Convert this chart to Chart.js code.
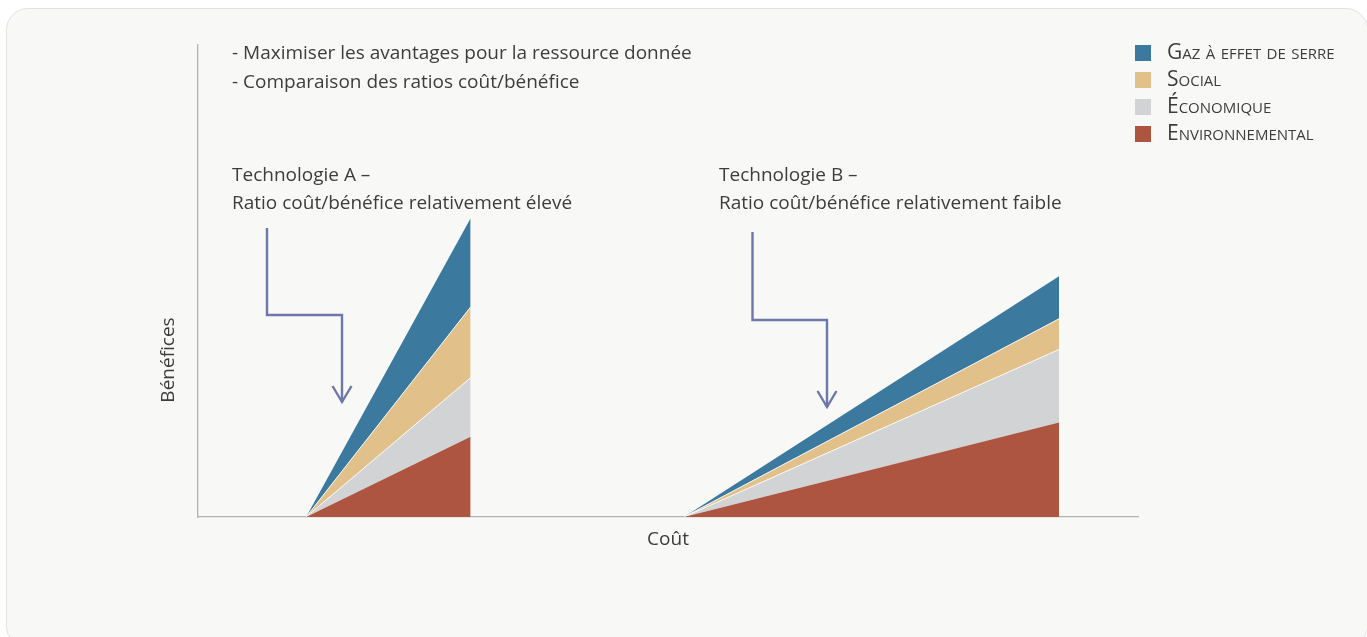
<!DOCTYPE html>
<html lang="fr">
<head>
<meta charset="utf-8">
<title>Bénéfices et coût – Technologies A et B</title>
<script src="https://cdn.jsdelivr.net/npm/chart.js@4.4.1/dist/chart.umd.min.js"></script>
<style>
  html, body { margin: 0; padding: 0; background: #ffffff; }
  body { width: 1367px; height: 637px; position: relative; overflow: hidden; }
  .card {
    position: absolute; left: 6px; top: 8px; width: 1362px; height: 640px;
    box-sizing: border-box; border: 1px solid #e3e3e3; border-radius: 22px;
    background: #f8f8f6;
  }
  #chart { position: absolute; left: 0; top: 0; }
</style>
</head>
<body>
<div class="card"></div>
<canvas id="chart" width="1367" height="637"></canvas>
<script>
// Technologies compared, with the cost interval each one spans (x units, 0–100)
const technologies = ['Technologie A', 'Technologie B'];
const costStart = [11.5, 51.7];
const costEnd = [29.0, 91.6];

// Benefits reached at full cost, per category (stacked, y units 0–100)
const environnemental = [17.0, 20.0];
const economique = [12.5, 15.5];
const social = [15.0, 6.5];
const gazEffetSerre = [18.8, 9.0];

const categoryLabels = ['Environnemental', 'Économique', 'Social', 'Gaz à effet de serre'];
const categoryColors = ['#ae5541', '#d1d3d4', '#e1c08a', '#3b799e'];

const headerLines = ['- Maximiser les avantages pour la ressource donnée', '- Comparaison des ratios coût/bénéfice'];
const techNotes = [
  ['Technologie A –', 'Ratio coût/bénéfice relativement élevé'],
  ['Technologie B –', 'Ratio coût/bénéfice relativement faible']
];

// Each technology is a wedge: zero benefit at its starting cost, full benefit at its end cost.
function wedgePoints(values) {
  const pts = [];
  technologies.forEach((t, i) => {
    pts.push({ x: costStart[i], y: 0 });
    pts.push({ x: costEnd[i], y: values[i] });
    if (i < technologies.length - 1) {
      pts.push({ x: (costEnd[i] + costStart[i + 1]) / 2, y: null });
    }
  });
  return pts;
}

const seriesValues = [environnemental, economique, social, gazEffetSerre];
const datasets = seriesValues.map((vals, k) => ({
  label: categoryLabels[k],
  data: wedgePoints(vals),
  backgroundColor: categoryColors[k],
  borderColor: (k === 1 || k === 2) ? 'rgba(255,255,255,0.85)' : categoryColors[k],
  borderWidth: (k === 1 || k === 2) ? 1 : 0,
  fill: k === 0 ? 'origin' : '-1',
  pointRadius: 0,
  tension: 0,
  spanGaps: false
}));

const TEXT = '#3d3d3d';
const FONT = '"Open Sans", "Noto Sans", sans-serif';

// Annotation layer: header notes, technology notes, arrows, axis titles, legend
const annotations = {
  id: 'annotations',
  afterDatasetsDraw(chart) {
    const { ctx, chartArea } = chart;
    ctx.save();
    ctx.fillStyle = TEXT;
    ctx.textBaseline = 'middle';
    ctx.textAlign = 'left';
    ctx.font = '19px ' + FONT;
    headerLines.forEach((line, i) => ctx.fillText(line, 232, 54 + i * 29));

    const noteX = [232, 719];
    techNotes.forEach((lines, i) => {
      lines.forEach((line, j) => ctx.fillText(line, noteX[i], 176 + j * 28));
    });

    // Bent arrows pointing at each wedge
    ctx.strokeStyle = '#6e77a9';
    ctx.lineWidth = 2.4;
    ctx.lineJoin = 'miter';
    ctx.lineCap = 'butt';
    const arrows = [
      { x0: 267, y0: 228, x1: 342, ym: 315, y1: 402 },
      { x0: 752.5, y0: 232, x1: 827, ym: 320, y1: 407 }
    ];
    arrows.forEach(a => {
      ctx.beginPath();
      ctx.moveTo(a.x0, a.y0);
      ctx.lineTo(a.x0, a.ym);
      ctx.lineTo(a.x1, a.ym);
      ctx.lineTo(a.x1, a.y1);
      ctx.stroke();
      ctx.beginPath();
      ctx.moveTo(a.x1 - 9.5, a.y1 - 16);
      ctx.lineTo(a.x1, a.y1);
      ctx.lineTo(a.x1 + 9.5, a.y1 - 16);
      ctx.stroke();
    });

    // Axis titles
    ctx.font = '19px ' + FONT;
    ctx.textAlign = 'center';
    ctx.fillText('Coût', (chartArea.left + chartArea.right) / 2, 540);
    ctx.save();
    ctx.translate(169, 360);
    ctx.rotate(-Math.PI / 2);
    ctx.fillText('Bénéfices', 0, 0);
    ctx.restore();

    // Legend, top category first, in small caps
    ctx.textAlign = 'left';
    ctx.font = 'small-caps 21px ' + FONT;
    if ('fontVariantCaps' in ctx) ctx.fontVariantCaps = 'small-caps';
    const order = [3, 2, 1, 0];
    order.forEach((k, r) => {
      const top = 45 + r * 27;
      ctx.fillStyle = categoryColors[k];
      ctx.fillRect(1135, top, 16, 16);
      ctx.fillStyle = TEXT;
      ctx.fillText(categoryLabels[k], 1167, top + 8);
    });
    ctx.restore();
  }
};

new Chart(document.getElementById('chart'), {
  type: 'line',
  data: { datasets },
  options: {
    responsive: false,
    animation: false,
    events: [],
    layout: { padding: { left: 190, right: 229, top: 45, bottom: 112 } },
    plugins: { legend: { display: false }, tooltip: { enabled: false } },
    scales: {
      x: {
        type: 'linear', min: 0, max: 100,
        ticks: { display: false },
        grid: { display: false },
        border: { display: true, color: '#b3b3b3', width: 1.3 }
      },
      y: {
        type: 'linear', min: 0, max: 100, stacked: true,
        ticks: { display: false },
        grid: { display: false },
        border: { display: true, color: '#b3b3b3', width: 1.3 }
      }
    }
  },
  plugins: [annotations]
});
</script>
</body>
</html>
